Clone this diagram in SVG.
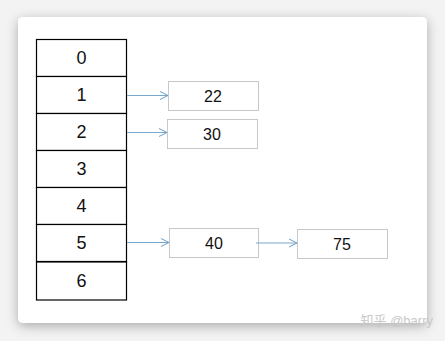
<svg xmlns="http://www.w3.org/2000/svg" width="445" height="341" viewBox="0 0 445 341">
<defs>
<filter id="sh" x="-10%" y="-10%" width="120%" height="125%"><feDropShadow dx="0" dy="3" stdDeviation="6" flood-color="#000" flood-opacity="0.3"/></filter>
<marker id="ah" markerWidth="10" markerHeight="10" refX="9" refY="5" orient="auto" markerUnits="userSpaceOnUse"><path d="M1,1 L9,5 L1,9" fill="none" stroke="#6a9fc8" stroke-width="1"/></marker>
<style>
.cell{fill:#fff;stroke:#000;stroke-width:1.2}
.box{fill:#fff;stroke:#c8c8c8;stroke-width:1}
.t{font-family:"Liberation Sans",Arial,sans-serif;font-size:18px;fill:#111;text-anchor:middle}
.tb{font-family:"Liberation Sans",Arial,sans-serif;font-size:16px;fill:#111;text-anchor:middle}
.c{stroke:#7aa8cc;stroke-width:1;fill:none;marker-end:url(#ah)}
</style>
</defs>
<rect width="445" height="341" fill="#f3f3f3"/>
<rect x="18" y="17" width="409" height="306" rx="5" fill="#fff" filter="url(#sh)"/>
<g id="array">
<g id="cell0"><rect class="cell" x="36.5" y="39.5" width="90" height="37"/><text class="t" x="81.5" y="63.5">0</text></g>
<g id="cell1"><rect class="cell" x="36.5" y="76.5" width="90" height="37"/><text class="t" x="81.5" y="100.5">1</text></g>
<g id="cell2"><rect class="cell" x="36.5" y="113.5" width="90" height="37"/><text class="t" x="81.5" y="137.5">2</text></g>
<g id="cell3"><rect class="cell" x="36.5" y="150.5" width="90" height="37"/><text class="t" x="81.5" y="174.5">3</text></g>
<g id="cell4"><rect class="cell" x="36.5" y="187.5" width="90" height="37"/><text class="t" x="81.5" y="211.5">4</text></g>
<g id="cell5"><rect class="cell" x="36.5" y="224.5" width="90" height="37"/><text class="t" x="81.5" y="248.5">5</text></g>
<g id="cell6"><rect class="cell" x="36.5" y="262" width="90" height="38"/><text class="t" x="81.5" y="286.5">6</text></g>
</g>
<g id="n22"><rect class="box" x="168.5" y="81.5" width="90" height="29"/><text class="tb" x="213" y="102">22</text></g>
<g id="n30"><rect class="box" x="167.5" y="119.5" width="90" height="29"/><text class="tb" x="212" y="140">30</text></g>
<g id="n40"><rect class="box" x="169.5" y="228.5" width="89" height="29"/><text class="tb" x="214" y="249">40</text></g>
<g id="n75"><rect class="box" x="297.5" y="229.5" width="90" height="29"/><text class="tb" x="342" y="249.5">75</text></g>
<g id="connectors">
<path class="c" d="M127,95.5 H168"/>
<path class="c" d="M127,132.5 H167"/>
<path class="c" d="M127,242.5 H169"/>
<path class="c" d="M256,243 H297"/>
</g>
<text x="433" y="325" font-family="'Liberation Sans','Noto Sans CJK SC',sans-serif" font-size="13" fill="#c8c8c8" text-anchor="end">知乎 @barry</text>
</svg>
